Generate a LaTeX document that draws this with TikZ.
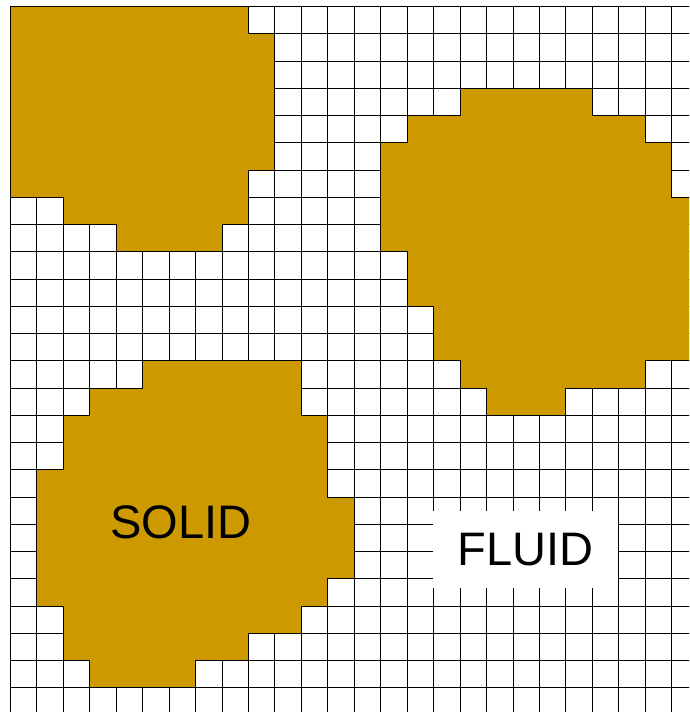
\documentclass[tikz,border=0pt]{standalone}
\usepackage{fontspec}
\setmainfont{Liberation Sans}
\definecolor{solidgold}{HTML}{CC9900}
\tikzset{
  gridline/.style={black, line width=0.9pt},
  solidblob/.style={fill=solidgold, draw=black, line width=0.9pt},
  biglabel/.style={font=\fontsize{47}{48}\selectfont, text=black, inner sep=0pt}
}
\begin{document}
\begin{tikzpicture}
\useasboundingbox (0pt,0pt) rectangle (689pt,712pt);
\fill[white] (0pt,0pt) rectangle (689pt,712pt);
\clip (0pt,0pt) rectangle (689pt,712pt);
\begin{scope}[shift={(10.4pt,705.3pt)}, x=26.45pt, y=-27.25pt]
  % grid
  \foreach \i in {0,...,27} {
    \draw[gridline] (\i,0) -- (\i,27);
    \draw[gridline] (0,\i) -- (27,\i);
  }
  % top-left solid
  \draw[solidblob] (0,0) -- (9,0) -- (9,1) -- (10,1) -- (10,6) -- (9,6) -- (9,8)
    -- (8,8) -- (8,9) -- (4,9) -- (4,8) -- (2,8) -- (2,7) -- (0,7) -- cycle;
  % top-right solid
  \draw[solidblob] (17,3) -- (22,3) -- (22,4) -- (24,4) -- (24,5) -- (25,5) -- (25,7)
    -- (27,7) -- (27,13) -- (24,13) -- (24,14) -- (21,14) -- (21,15) -- (18,15)
    -- (18,14) -- (17,14) -- (17,13) -- (16,13) -- (16,11) -- (15,11) -- (15,9)
    -- (14,9) -- (14,5) -- (15,5) -- (15,4) -- (17,4) -- cycle;
  % bottom-left solid
  \draw[solidblob] (5,13) -- (11,13) -- (11,15) -- (12,15) -- (12,18) -- (13,18)
    -- (13,21) -- (12,21) -- (12,22) -- (11,22) -- (11,23) -- (9,23) -- (9,24)
    -- (7,24) -- (7,25) -- (3,25) -- (3,24) -- (2,24) -- (2,22) -- (1,22)
    -- (1,17) -- (2,17) -- (2,15) -- (3,15) -- (3,14) -- (5,14) -- cycle;
  % labels
  \node[biglabel] (solid) at (6.44,18.94) {SOLID};
  \node[biglabel, fill=white, minimum width=185.6pt, minimum height=77pt] (fluid) at (19.47,19.91) {FLUID};
\end{scope}
\end{tikzpicture}
\end{document}
